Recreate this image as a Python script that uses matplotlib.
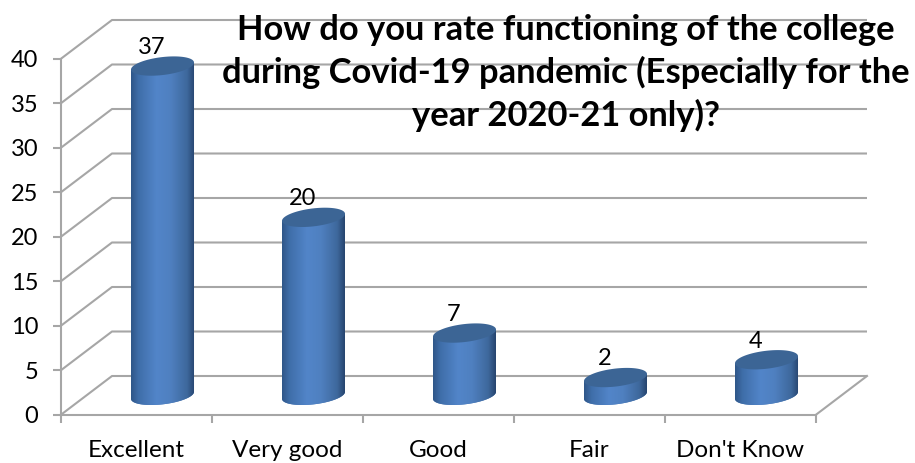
import numpy as np
import matplotlib
matplotlib.use("Agg")
import matplotlib.pyplot as plt
from matplotlib.colors import LinearSegmentedColormap
from matplotlib.patches import Polygon

categories = ["Excellent", "Very good", "Good", "Fair", "Don't Know"]
values = [37, 20, 7, 2, 4]
y_ticks = [0, 5, 10, 15, 20, 25, 30, 35, 40]
title = ("How do you rate functioning of the college\n"
         "during Covid-19 pandemic (Especially for the\n"
         "year 2020-21 only)?")

W, H = 915, 463
L, R, B, T = 61, 816, 414.7, 58.7
plt.rcParams["font.family"] = ["Lato", "DejaVu Sans"]

fig = plt.figure(figsize=(W / 100, H / 100), dpi=100)
ax = fig.add_axes([L / W, 1 - B / H, (R - L) / W, (B - T) / H])
ax.set_xlim(0, len(categories))
ax.set_ylim(0, 40)

ux = (R - L) / len(categories)      # pixels per category
uy = (B - T) / 40                   # pixels per value unit
dep_x, dep_y = 51 / ux, 38.7 / uy   # depth of the 3-D box, in data units

GRID = "#a6a6a6"
LW = 1.5
for v in y_ticks:
    ax.plot([0, dep_x, len(categories) + dep_x],
            [v, v + dep_y, v + dep_y],
            color=GRID, lw=LW, clip_on=False, zorder=1, solid_capstyle="butt")
ax.plot([len(categories), len(categories) + dep_x], [0, dep_y],
        color=GRID, lw=LW, clip_on=False, zorder=1)

for s in ["top", "right"]:
    ax.spines[s].set_visible(False)
for s in ["left", "bottom"]:
    ax.spines[s].set_color(GRID)
    ax.spines[s].set_linewidth(LW)
ax.set_yticks(y_ticks)
ax.set_xticks(np.arange(len(categories) + 1))
ax.set_xticklabels([])
ax.tick_params(axis="both", color=GRID, width=LW, length=6, labelsize=17, labelcolor="black")
ax.tick_params(axis="y", pad=10.5)
for i, c in enumerate(categories):
    ax.annotate(c, (i + 0.5, 0), xytext=(0, -26), textcoords="offset points",
                ha="center", va="center", fontsize=17.5, color="black",
                annotation_clip=False)

cmap = LinearSegmentedColormap.from_list(
    "cyl", [(0, "#2f5688"), (0.12, "#3f6ea9"), (0.40, "#5285c9"),
            (0.62, "#4f80c0"), (0.88, "#3e689c"), (1, "#26446e")])
grad = np.linspace(0, 1, 256).reshape(1, -1)

half_w = 31.5 / ux
b_px, k_px = 9.0, 3.5
base_y = dep_y * 0.5
offs_x = dep_x * 0.51
t = np.linspace(0, 2 * np.pi, 181)


def ring(cx, cy):
    """Skewed ellipse outline in data units."""
    return (cx + half_w * np.cos(t),
            cy + (b_px * np.sin(t) + k_px * np.cos(t)) / uy)


for i, v in enumerate(values):
    cx = i + 0.5 + offs_x
    top_y = base_y + v
    tx, ty = ring(cx, top_y)
    lower = t[(t >= np.pi) & (t <= 2 * np.pi)]
    lx = cx + half_w * np.cos(lower)
    ly = base_y + (b_px * np.sin(lower) + k_px * np.cos(lower)) / uy
    body = np.column_stack([
        np.r_[lx, cx + half_w, cx - half_w],
        np.r_[ly, top_y + k_px / uy, top_y - k_px / uy]])
    clip = Polygon(body, closed=True, transform=ax.transData)
    rect = ax.bar(cx, v + 3, width=2 * half_w, bottom=base_y - 1.5,
                  color="#4a7ab8", zorder=3)[0]
    rect.set_clip_on(True)
    rect.set_clip_path(clip)
    im = ax.imshow(grad, cmap=cmap, aspect="auto", zorder=3.1,
                   extent=[cx - half_w, cx + half_w, base_y - 2, top_y + 2],
                   interpolation="bilinear")
    im.set_clip_path(clip)
    ax.fill(tx, ty, color="#3c6595", zorder=3.2, clip_on=False, lw=0)
    ax.annotate(str(v), (cx, top_y), xytext=(-7.6, 13.5), textcoords="offset points",
                ha="center", va="center", fontsize=17, color="black",
                annotation_clip=False, zorder=5)

ax.set_xlim(0, len(categories))
ax.set_ylim(0, 40)

fig.text(566 / W, 1 - 73 / H, title, ha="center", va="center", fontsize=24.8,
         fontweight="bold", color="black", linespacing=1.35, zorder=10)

fig.savefig("out.png", dpi=100)
